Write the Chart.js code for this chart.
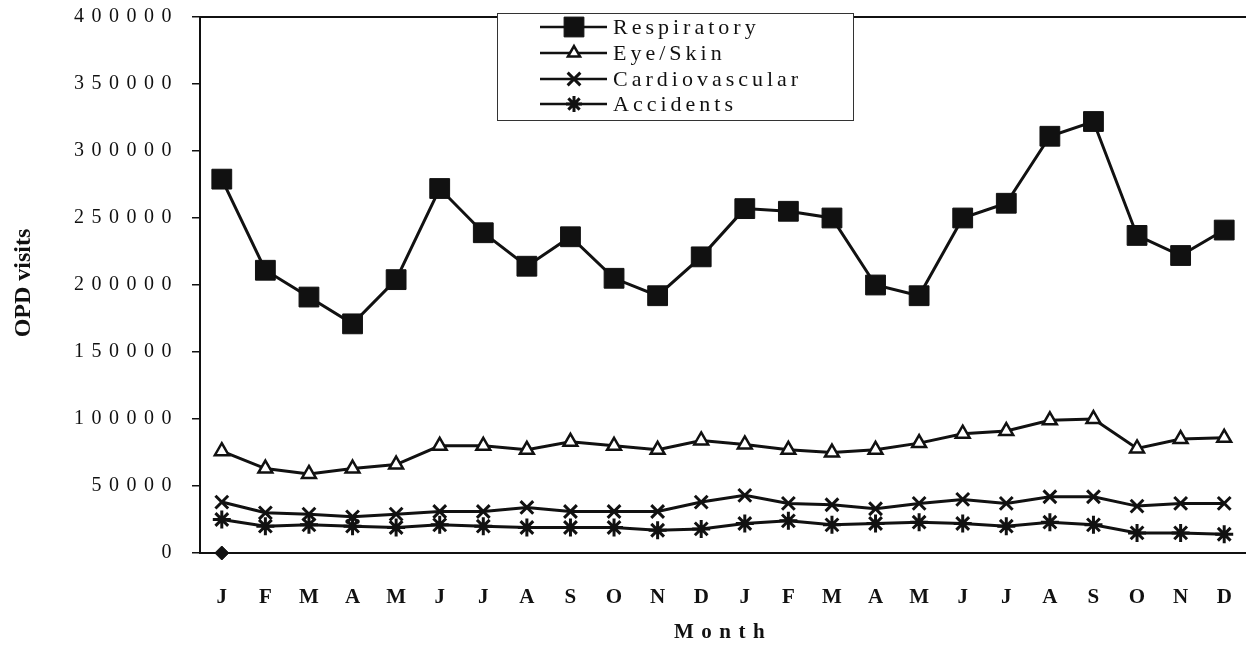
<!DOCTYPE html>
<html>
<head>
<meta charset="utf-8">
<script src="https://cdn.jsdelivr.net/npm/chart.js@4"></script>
<style>
  html, body { margin: 0; padding: 0; background: #fff; }
  #wrap { width: 1246px; height: 649px; }
</style>
</head>
<body>
<div id="wrap"><canvas id="opdChart"></canvas></div>
<script>
const months = ["J","F","M","A","M","J","J","A","S","O","N","D",
                "J","F","M","A","M","J","J","A","S","O","N","D"];

const respiratory = [279000, 211000, 191000, 171000, 204000, 272000, 239000, 214000, 236000, 205000, 192000, 221000,
                     257000, 255000, 250000, 200000, 192000, 250000, 261000, 311000, 322000, 237000, 222000, 241000];
const eyeSkin     = [76000, 63000, 59000, 63000, 66000, 80000, 80000, 77000, 83000, 80000, 77000, 84000,
                     81000, 77000, 75000, 77000, 82000, 89000, 91000, 99000, 100000, 78000, 85000, 86000];
const cardio      = [38000, 30000, 29000, 27000, 29000, 31000, 31000, 34000, 31000, 31000, 31000, 38000,
                     43000, 37000, 36000, 33000, 37000, 40000, 37000, 42000, 42000, 35000, 37000, 37000];
const accidents   = [25000, 20000, 21000, 20000, 19000, 21000, 20000, 19000, 19000, 19000, 17000, 18000,
                     22000, 24000, 21000, 22000, 23000, 22000, 20000, 23000, 21000, 15000, 15000, 14000];
const zeroMark    = [0];

const yTicks = { min: 0, max: 400000, step: 50000 };

const ink = "#111";
const spacing = 7.5;

// legend and y title drawn by hand, frame around plot
const paperLook = {
    id: "paperLook",
    beforeDraw(chart) {
        chart.ctx.letterSpacing = spacing + "px";
    },
    beforeDatasetsDraw(chart) {
        const a = chart.chartArea, ctx = chart.ctx;
        ctx.save();
        ctx.strokeStyle = ink;
        ctx.lineWidth = 2;
        ctx.strokeRect(a.left, a.top, a.right - a.left + 4, a.bottom - a.top);
        ctx.restore();
    },
    afterDraw(chart) {
        const ctx = chart.ctx;
        ctx.save();

        // y title
        ctx.letterSpacing = "0px";
        ctx.font = "bold 24px 'Liberation Serif'";
        ctx.fillStyle = ink;
        ctx.textAlign = "center";
        ctx.textBaseline = "middle";
        ctx.translate(24, 283);
        ctx.rotate(-Math.PI / 2);
        ctx.fillText("OPD visits", 0, 0);
        ctx.setTransform(1, 0, 0, 1, 0, 0);

        // legend box
        const bx = 497, by = 13, bw = 356, bh = 107;
        ctx.fillStyle = "#fff";
        ctx.fillRect(bx, by, bw, bh);
        ctx.strokeStyle = "#333";
        ctx.lineWidth = 1;
        ctx.strokeRect(bx + 0.5, by + 0.5, bw, bh);

        const rows = [27, 53, 79, 104];
        ctx.letterSpacing = "4px";
        ctx.font = "22px 'Liberation Serif'";
        ctx.textAlign = "left";
        chart.data.datasets.slice(0, 4).forEach((ds, i) => {
            const y = rows[i];
            ctx.strokeStyle = ink;
            ctx.lineWidth = 2.5;
            ctx.beginPath();
            ctx.moveTo(540, y);
            ctx.lineTo(607, y);
            ctx.stroke();
            ctx.fillStyle = ds.pointBackgroundColor;
            ctx.strokeStyle = ds.pointBorderColor;
            ctx.lineWidth = ds.pointBorderWidth;
            Chart.helpers.drawPoint(ctx, {
                pointStyle: ds.pointStyle,
                radius: ds.legendRadius,
                borderWidth: ds.pointBorderWidth,
                rotation: 0
            }, 574, y);
            ctx.fillStyle = ink;
            ctx.fillText(ds.label, 613, y + 1);
        });
        ctx.restore();
    }
};

new Chart(document.getElementById("opdChart"), {
    type: "line",
    data: {
        labels: months,
        datasets: [
            {
                label: "Respiratory",
                data: respiratory,
                borderColor: ink,
                borderWidth: 3,
                pointStyle: "rect",
                pointRadius: 14,
                legendRadius: 14,
                pointBackgroundColor: ink,
                pointBorderColor: ink,
                pointBorderWidth: 1
            },
            {
                label: "Eye/Skin",
                data: eyeSkin,
                borderColor: ink,
                borderWidth: 3,
                pointStyle: "triangle",
                pointRadius: 8,
                legendRadius: 7,
                pointBackgroundColor: "#fff",
                pointBorderColor: ink,
                pointBorderWidth: 2.5
            },
            {
                label: "Cardiovascular",
                data: cardio,
                borderColor: ink,
                borderWidth: 3,
                pointStyle: "crossRot",
                pointRadius: 9,
                legendRadius: 9,
                pointBackgroundColor: ink,
                pointBorderColor: ink,
                pointBorderWidth: 3
            },
            {
                label: "Accidents",
                data: accidents,
                borderColor: ink,
                borderWidth: 3,
                pointStyle: "star",
                pointRadius: 9,
                legendRadius: 8,
                pointBackgroundColor: ink,
                pointBorderColor: ink,
                pointBorderWidth: 3
            },
            {
                label: "",
                data: zeroMark,
                showLine: false,
                clip: false,
                pointStyle: "rectRot",
                pointRadius: 7,
                pointBackgroundColor: ink,
                pointBorderColor: ink,
                pointBorderWidth: 1
            }
        ]
    },
    options: {
        responsive: true,
        maintainAspectRatio: false,
        animation: false,
        layout: {
            autoPadding: false,
            padding: { top: 17, right: 0, bottom: 0, left: 0 }
        },
        plugins: {
            legend: { display: false },
            tooltip: { enabled: false }
        },
        scales: {
            x: {
                offset: true,
                afterFit: s => {
                    s.height = 96;
                    s.paddingLeft = 0;
                    s.paddingRight = 0;
                },
                grid: { display: false, drawTicks: false },
                border: { display: false },
                ticks: {
                    color: ink,
                    padding: 32,
                    labelOffset: spacing / 2,
                    maxRotation: 0,
                    autoSkip: false,
                    font: { family: "'Liberation Serif'", size: 21, weight: "bold" }
                },
                title: {
                    display: true,
                    text: "Month",
                    color: ink,
                    font: { family: "'Liberation Serif'", size: 21, weight: "bold" }
                }
            },
            y: {
                min: yTicks.min,
                max: yTicks.max,
                afterFit: s => {
                    s.width = 200;
                    s.paddingTop = 0;
                    s.paddingBottom = 0;
                },
                grid: {
                    drawOnChartArea: false,
                    drawTicks: true,
                    tickLength: 8,
                    color: ink,
                    lineWidth: 1.5
                },
                border: { display: false },
                ticks: {
                    stepSize: yTicks.step,
                    color: ink,
                    padding: 13,
                    callback: v => String(v),
                    font: { family: "'Liberation Serif'", size: 20 }
                }
            }
        }
    },
    plugins: [paperLook]
});
</script>
</body>
</html>
